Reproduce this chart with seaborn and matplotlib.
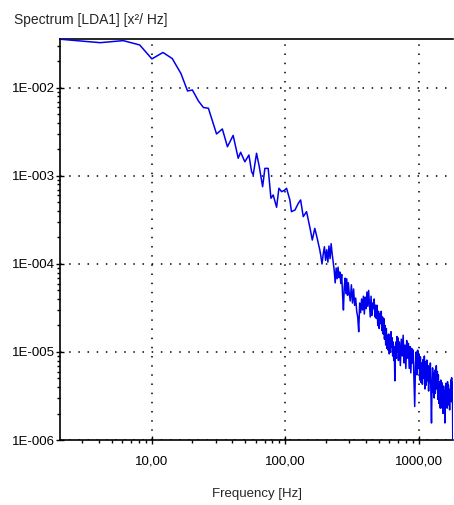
import math
import matplotlib
matplotlib.use("Agg")
import matplotlib.pyplot as plt
import matplotlib.ticker as mticker
import seaborn as sns
import pandas as pd

# Power spectrum of the LDA1 channel (frequency in Hz, spectrum in x^2/Hz)
# Low-frequency part, 2 - 181 Hz
freq_low = [
    2.05, 4.1, 6.1, 8.1, 10, 12.1, 14.2, 16.5, 18.5, 20.1,
    22.3, 24.3, 26.5, 30.5, 33.7, 36.8, 40.6, 44.3, 46.2, 49.7,
    53.3, 55.8, 57.4, 60.8, 63.7, 67.5, 70.2, 74.3, 77.9, 81.0,
    85.9, 89.4, 93.7, 99.1, 102, 108, 111, 118, 125, 130,
    136, 144, 153, 159, 166, 173, 181,
]
spec_low = [
    3.58e-2, 3.27e-2, 3.45e-2, 3.08e-2, 2.14e-2, 2.53e-2, 2.16e-2, 1.46e-2, 9.24e-3, 9.49e-3,
    7.12e-3, 6.00e-3, 5.88e-3, 3.00e-3, 3.42e-3, 2.15e-3, 2.89e-3, 1.59e-3, 1.86e-3, 1.45e-3,
    1.73e-3, 1.12e-3, 1.03e-3, 1.81e-3, 1.28e-3, 7.55e-4, 1.22e-3, 1.22e-3, 5.58e-4, 6.08e-4,
    4.41e-4, 7.25e-4, 6.63e-4, 6.93e-4, 7.25e-4, 5.34e-4, 3.93e-4, 4.11e-4, 4.90e-4, 5.34e-4,
    3.45e-4, 3.93e-4, 2.54e-4, 1.87e-4, 2.54e-4, 1.96e-4, 1.44e-4,
]

# Mid band, 184 - 300 Hz
freq_mid = [
    184, 188, 192, 196, 200, 204, 208, 212, 216, 220,
    224, 228, 232, 236, 240, 244, 248, 252, 256, 260,
    264, 268, 272, 276, 280, 284, 288, 292, 296, 300,
]
spec_mid = [
    1.25e-4, 1.00e-4, 1.30e-4, 1.57e-4, 1.10e-4, 1.45e-4, 1.05e-4, 1.60e-4, 1.15e-4, 1.70e-4,
    1.30e-4, 1.05e-4, 8.5e-5, 6.1e-5, 9.0e-5, 6.8e-5, 9.2e-5, 7.0e-5, 8.1e-5, 6.0e-5,
    7.6e-5, 4.5e-5, 3.0e-5, 5.5e-5, 6.9e-5, 4.6e-5, 6.8e-5, 4.4e-5, 6.1e-5, 4.8e-5,
]

# Upper band, 306 - 702 Hz
freq_up = [
    306, 312, 318, 324, 330, 336, 342, 348, 354, 360,
    366, 372, 378, 384, 390, 396, 402, 408, 414, 420,
    426, 432, 438, 444, 450, 456, 462, 468, 474, 480,
    486, 492, 498, 504, 510, 516, 522, 528, 534, 540,
    546, 552, 558, 564, 570, 576, 582, 588, 594, 600,
    606, 612, 618, 624, 630, 636, 642, 648, 654, 660,
    666, 672, 678, 684, 690, 696, 702,
]
spec_up = [
    3.8e-5, 5.8e-5, 3.6e-5, 5.2e-5, 3.4e-5, 4.1e-5, 2.9e-5, 2.5e-5, 1.7e-5, 3.6e-5,
    2.8e-5, 4.0e-5, 3.0e-5, 4.3e-5, 2.7e-5, 4.2e-5, 3.1e-5, 4.8e-5, 3.3e-5, 5.0e-5,
    3.5e-5, 2.5e-5, 4.3e-5, 2.6e-5, 3.6e-5, 3.1e-5, 4.0e-5, 2.5e-5, 3.4e-5, 2.4e-5,
    3.4e-5, 2.0e-5, 2.9e-5, 1.85e-5, 2.7e-5, 2.1e-5, 2.9e-5, 1.75e-5, 2.5e-5, 1.6e-5,
    2.4e-5, 1.4e-5, 2.0e-5, 1.2e-5, 1.85e-5, 1.1e-5, 1.55e-5, 1.05e-5, 1.6e-5, 9.5e-6,
    1.45e-5, 1.0e-5, 1.7e-5, 1.15e-5, 1.45e-5, 9.0e-6, 1.3e-5, 8.0e-6, 1.15e-5, 4.7e-6,
    1.05e-5, 1.3e-5, 8.5e-6, 1.5e-5, 1.0e-5, 1.45e-5, 8.0e-6,
]

# High band, 714 - 1794 Hz
freq_high = [
    714, 726, 738, 750, 762, 774, 786, 798, 810, 822,
    834, 846, 858, 870, 882, 894, 906, 918, 930, 942,
    954, 966, 978, 990, 1002, 1014, 1026, 1038, 1050, 1062,
    1074, 1086, 1098, 1110, 1122, 1134, 1146, 1158, 1170, 1182,
    1194, 1206, 1218, 1230, 1242, 1254, 1266, 1278, 1290, 1302,
    1314, 1326, 1338, 1350, 1362, 1374, 1386, 1398, 1410, 1422,
    1434, 1446, 1458, 1470, 1482, 1494, 1506, 1518, 1530, 1542,
    1554, 1566, 1578, 1590, 1602, 1614, 1626, 1638, 1650, 1662,
    1674, 1686, 1698, 1710, 1722, 1734, 1746, 1758, 1770, 1782,
    1794,
]
spec_high = [
    1.3e-5, 7.0e-6, 1.4e-5, 9.0e-6, 1.55e-5, 7.5e-6, 1.2e-5, 6.5e-6, 1.35e-5, 8.5e-6,
    1.25e-5, 6.5e-6, 1.15e-5, 5.8e-6, 1.1e-5, 7.5e-6, 1.05e-5, 5.0e-6, 2.4e-6, 7.0e-6,
    1.0e-5, 5.5e-6, 1.05e-5, 6.5e-6, 9.5e-6, 4.8e-6, 8.8e-6, 4.5e-6, 7.5e-6, 4.3e-6,
    8.2e-6, 5.0e-6, 9.0e-6, 3.8e-6, 7.8e-6, 4.2e-6, 8.1e-6, 4.7e-6, 7.0e-6, 3.6e-6,
    6.8e-6, 4.5e-6, 7.5e-6, 3.2e-6, 1.56e-6, 4.2e-6, 6.6e-6, 3.5e-6, 5.8e-6, 3.0e-6,
    6.2e-6, 3.4e-6, 5.3e-6, 7.0e-6, 3.8e-6, 6.0e-6, 2.9e-6, 5.5e-6, 2.6e-6, 4.6e-6,
    3.1e-6, 2.3e-6, 4.8e-6, 2.7e-6, 4.5e-6, 2.3e-6, 3.8e-6, 2.0e-6, 4.1e-6, 2.4e-6,
    3.6e-6, 1.56e-6, 3.0e-6, 4.4e-6, 2.6e-6, 3.9e-6, 2.3e-6, 4.6e-6, 2.7e-6, 4.2e-6,
    2.5e-6, 3.5e-6, 2.2e-6, 3.8e-6, 2.8e-6, 4.8e-6, 3.0e-6, 5.1e-6, 2.7e-6, 4.5e-6,
    8.0e-7,
]

x_ticks = [10, 100, 1000]
y_ticks = [1e-6, 1e-5, 1e-4, 1e-3, 1e-2]

sns.set_style("white")
plt.rcParams["font.family"] = ["Liberation Sans", "DejaVu Sans"]

df = pd.DataFrame({
    "freq": freq_low + freq_mid + freq_up + freq_high,
    "spec": spec_low + spec_mid + spec_up + spec_high,
})

fig = plt.figure(figsize=(4.54, 5.05), dpi=100)
ax = fig.add_axes([60 / 454, 65 / 505, 393 / 454, 401 / 505])

sns.lineplot(data=df, x="freq", y="spec", ax=ax, color="#0000f0",
             linewidth=1.1, estimator=None, sort=False, zorder=3)

ax.set_xscale("log")
ax.set_yscale("log")
ax.set_xlim(2.05, 1800)
ax.set_ylim(1e-6, 0.036)

ax.xaxis.set_major_locator(mticker.FixedLocator(x_ticks))
ax.yaxis.set_major_locator(mticker.FixedLocator(y_ticks))
ax.xaxis.set_minor_locator(mticker.LogLocator(base=10, subs=range(2, 10), numticks=20))
ax.yaxis.set_minor_locator(mticker.LogLocator(base=10, subs=range(2, 10), numticks=20))
ax.xaxis.set_minor_formatter(mticker.NullFormatter())
ax.yaxis.set_minor_formatter(mticker.NullFormatter())
ax.xaxis.set_major_formatter(mticker.FuncFormatter(
    lambda v, p: f"{v:.2f}".replace(".", ",")))
ax.yaxis.set_major_formatter(mticker.FuncFormatter(
    lambda v, p: "1E-{:03d}".format(int(round(-math.log10(v))))))

ax.tick_params(axis="both", which="both", bottom=True, left=True,
               top=False, right=False, color="black")
ax.tick_params(axis="both", which="major", direction="inout", length=5.5, width=1,
               labelsize=9.5, labelcolor="black")
ax.tick_params(axis="both", which="minor", direction="out", length=2.5, width=1)
ax.tick_params(axis="x", which="major", pad=8.5)
ax.tick_params(axis="y", which="major", pad=1)

ax.grid(True, which="major", color="black", linestyle=(0, (1, 5)), linewidth=1.1)
ax.grid(False, which="minor")

for side in ["left", "bottom", "top"]:
    ax.spines[side].set_visible(True)
    ax.spines[side].set_color("black")
    ax.spines[side].set_linewidth(1.2)
ax.spines["right"].set_visible(False)

ax.set_xlabel("Frequency [Hz]", fontsize=9.5, labelpad=15)
ax.set_ylabel("")
fig.text(14 / 454, 1 - 20 / 505, "Spectrum [LDA1] [x²/ Hz]", fontsize=10,
         va="center", ha="left")

fig.savefig("out.png", dpi=100)
